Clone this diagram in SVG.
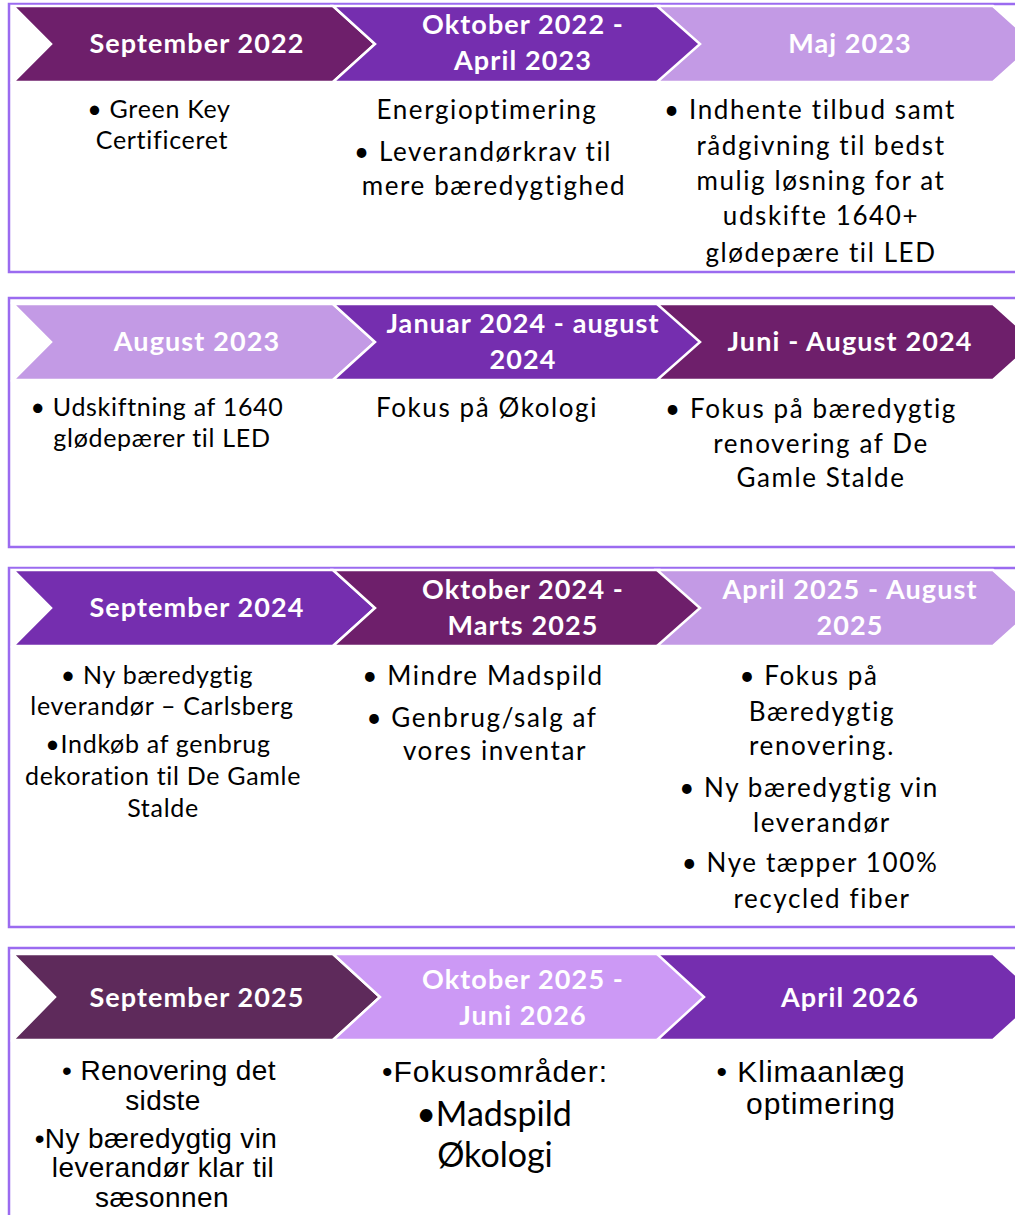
<svg xmlns="http://www.w3.org/2000/svg" width="1015" height="1215" viewBox="0 0 1015 1215">
<style>
.frame{fill:#ffffff;stroke:#9b6bf0;stroke-width:2.5}
.chev{stroke:#ffffff;stroke-width:2.5}
.dark{fill:#6e1f6b}.mid{fill:#752eaf}.light{fill:#c39ae5}.plum{fill:#5e2a5b}.lav{fill:#cc99f5}
.hd{font-family:Lato,"Liberation Sans",sans-serif;font-weight:bold;font-size:27px;letter-spacing:1.1px;fill:#ffffff;text-anchor:middle}
.bd{font-family:Lato,"Liberation Sans",sans-serif;font-size:26px;letter-spacing:1.6px;fill:#000000;text-anchor:middle}
.bd1{font-family:Lato,"Liberation Sans",sans-serif;font-size:25px;letter-spacing:0.7px;fill:#000000;text-anchor:middle}
.ar{font-family:"Liberation Sans",Arial,sans-serif;font-size:28px;letter-spacing:0.4px;fill:#000000;text-anchor:middle}
.ar2{font-family:"Liberation Sans",Arial,sans-serif;font-size:30px;letter-spacing:1px;fill:#000000;text-anchor:middle}
.big{font-family:Lato,"Liberation Sans",sans-serif;font-size:34px;fill:#000000;text-anchor:middle}
</style>
<rect class="frame" x="9" y="4" width="1030" height="268"/>
<rect class="frame" x="9" y="298" width="1030" height="249"/>
<rect class="frame" x="9" y="568" width="1030" height="359"/>
<rect class="frame" x="9" y="948" width="1030" height="280"/>
<g id="connectors"/>
<!-- Row 1 -->
<g id="r1c1"><path class="chev dark" d="M13,6 L333,6 L375,44 L333,82 L13,82 L51,44 Z"/><text class="hd" x="197" y="53">September 2022</text></g>
<g id="r1c2"><path class="chev mid" d="M333,6 L660,6 L702,44 L660,82 L333,82 L375,44 Z"/><text class="hd" x="523" y="34">Oktober 2022 -</text><text class="hd" x="523" y="70">April 2023</text></g>
<g id="r1c3"><path class="chev light" d="M657,6 L993,6 L1035,44 L993,82 L657,82 L700,44 Z"/><text class="hd" x="850" y="53">Maj 2023</text></g>
<g id="r1t1"><text class="bd1" x="159" y="118">• Green Key</text><text class="bd1" x="162" y="149">Certificeret</text></g>
<g id="r1t2"><text class="bd" x="487" y="119">Energioptimering</text><text class="bd" x="483" y="161">• Leverandørkrav til</text><text class="bd" x="494" y="195">mere bæredygtighed</text></g>
<g id="r1t3"><text class="bd" x="810" y="119">• Indhente tilbud samt</text><text class="bd" x="821" y="155">rådgivning til bedst</text><text class="bd" x="821" y="190">mulig løsning for at</text><text class="bd" x="821" y="225">udskifte 1640+</text><text class="bd" x="821" y="262">glødepære til LED</text></g>
<!-- Row 2 -->
<g id="r2c1"><path class="chev light" d="M13,304 L333,304 L375,342 L333,380 L13,380 L51,342 Z"/><text class="hd" x="197" y="351">August 2023</text></g>
<g id="r2c2"><path class="chev mid" d="M333,304 L660,304 L702,342 L660,380 L333,380 L375,342 Z"/><text class="hd" x="523" y="333">Januar 2024 - august</text><text class="hd" x="523" y="369">2024</text></g>
<g id="r2c3"><path class="chev dark" d="M657,304 L993,304 L1035,342 L993,380 L657,380 L700,342 Z"/><text class="hd" x="850" y="351">Juni - August 2024</text></g>
<g id="r2t1"><text class="bd1" x="157" y="416">• Udskiftning af 1640</text><text class="bd1" x="162" y="447">glødepærer til LED</text></g>
<g id="r2t2"><text class="bd" x="487" y="417">Fokus på Økologi</text></g>
<g id="r2t3"><text class="bd" x="811" y="418">• Fokus på bæredygtig</text><text class="bd" x="821" y="453">renovering af De</text><text class="bd" x="821" y="487">Gamle Stalde</text></g>
<!-- Row 3 -->
<g id="r3c1"><path class="chev mid" d="M13,570 L333,570 L375,608 L333,646 L13,646 L51,608 Z"/><text class="hd" x="197" y="617">September 2024</text></g>
<g id="r3c2"><path class="chev dark" d="M333,570 L660,570 L702,608 L660,646 L333,646 L375,608 Z"/><text class="hd" x="523" y="599">Oktober 2024 -</text><text class="hd" x="523" y="635">Marts 2025</text></g>
<g id="r3c3"><path class="chev light" d="M657,570 L993,570 L1035,608 L993,646 L657,646 L700,608 Z"/><text class="hd" x="850" y="599">April 2025 - August</text><text class="hd" x="850" y="635">2025</text></g>
<g id="r3t1"><text class="bd1" x="157" y="684">• Ny bæredygtig</text><text class="bd1" x="162" y="715">leverandør – Carlsberg</text><text class="bd1" x="158" y="753">•Indkøb af genbrug</text><text class="bd1" x="163" y="785">dekoration til De Gamle</text><text class="bd1" x="163" y="817">Stalde</text></g>
<g id="r3t2"><text class="bd" x="483" y="685">• Mindre Madspild</text><text class="bd" x="482" y="727">• Genbrug/salg af</text><text class="bd" x="495" y="760">vores inventar</text></g>
<g id="r3t3"><text class="bd" x="809" y="685">• Fokus på</text><text class="bd" x="822" y="721">Bæredygtig</text><text class="bd" x="822" y="755">renovering.</text><text class="bd" x="809" y="797">• Ny bæredygtig vin</text><text class="bd" x="822" y="832">leverandør</text><text class="bd" x="810" y="872">• Nye tæpper 100%</text><text class="bd" x="822" y="908">recycled fiber</text></g>
<!-- Row 4 -->
<g id="r4c1"><path class="chev plum" d="M13,954 L333,954 L380,997 L333,1040 L13,1040 L55,997 Z"/><text class="hd" x="197" y="1007">September 2025</text></g>
<g id="r4c2"><path class="chev lav" d="M333,954 L660,954 L707,997 L660,1040 L333,1040 L380,997 Z"/><text class="hd" x="523" y="989">Oktober 2025 -</text><text class="hd" x="523" y="1025">Juni 2026</text></g>
<g id="r4c3"><path class="chev mid" d="M657,954 L993,954 L1040,997 L993,1040 L657,1040 L704,997 Z"/><text class="hd" x="850" y="1007">April 2026</text></g>
<g id="r4t1"><text class="ar" x="169" y="1080">• Renovering det</text><text class="ar" x="163" y="1110">sidste</text><text class="ar" x="156" y="1148">•Ny bæredygtig vin</text><text class="ar" x="163" y="1177">leverandør klar til</text><text class="ar" x="162" y="1207">sæsonnen</text></g>
<g id="r4t2"><text class="ar2" x="495" y="1082">•Fokusområder:</text><text class="big" x="494" y="1126">•Madspild</text><text class="big" x="495" y="1167">Økologi</text></g>
<g id="r4t3"><text class="ar2" x="811" y="1082">• Klimaanlæg</text><text class="ar2" x="821" y="1114">optimering</text></g>
</svg>
